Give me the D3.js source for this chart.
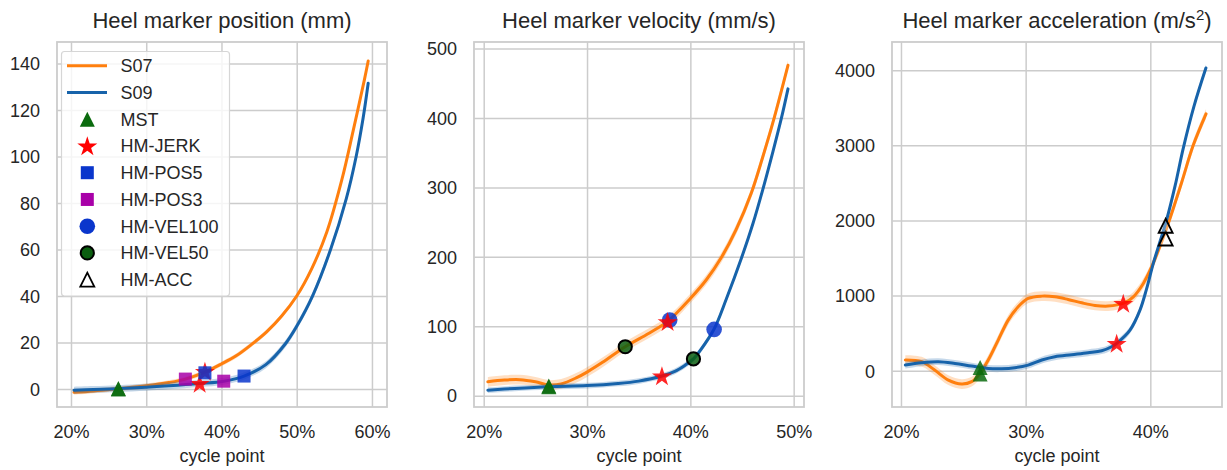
<!DOCTYPE html>
<html><head><meta charset="utf-8">
<script src="https://cdn.jsdelivr.net/npm/d3@7"></script>
<style>
body{margin:0;background:#fff}
text{font-family:"Liberation Sans",Arial,Helvetica,sans-serif;fill:#262626}
</style>
</head><body>
<svg id="c" width="1227" height="470"></svg>
<script>
// ---------------- DATA ----------------
const seriesNames = ["S07", "S09"];
const markerNames = ["MST","HM-JERK","HM-POS5","HM-POS3","HM-VEL100","HM-VEL50","HM-ACC"];
const titles = ["Heel marker position (mm)", "Heel marker velocity (mm/s)", "Heel marker acceleration (m/s"];
const xLabel = "cycle point";

const xTicksPos = [20, 30, 40, 50, 60];
const yTicksPos = [0, 20, 40, 60, 80, 100, 120, 140];
const xTicksVel = [20, 30, 40, 50];
const yTicksVel = [0, 100, 200, 300, 400, 500];
const xTicksAcc = [20, 30, 40];
const yTicksAcc = [0, 1000, 2000, 3000, 4000];

// Position (mm)
const posX_S07 = [20.4, 23, 26.3, 30, 33, 35.2, 37.8, 40, 42, 44, 46, 48, 50, 52, 54, 56, 57.5, 59, 59.5];
const posY_S07 = [-1.4, -0.8, 0.2, 1.4, 2.8, 4.3, 7.3, 10.8, 14.4, 19.2, 24.6, 31.4, 40, 51.8, 67.5, 90, 111, 133, 141];
const posX_S09 = [20.4, 23, 26.3, 30, 33, 37.1, 40.3, 43, 45.9, 48.5, 50, 52.1, 54.5, 56.6, 57.9, 58.8, 59.5];
const posY_S09 = [-0.5, -0.2, 0.2, 0.8, 1.4, 2.4, 3.4, 5.6, 10.5, 19.5, 27, 40, 60, 82, 100, 116, 131.5];
const bandPos = [1.0, 1.5];

// Velocity (mm/s)
const velX_S07 = [20.4, 22, 23.5, 25, 26.3, 27.5, 29, 30, 31.5, 33.7, 36, 37.8, 40, 41.55, 43, 44.45, 45.9, 47.03, 48, 49.45];
const velY_S07 = [20, 22.5, 23, 20, 15.5, 17, 26, 34, 48, 70.5, 90, 107, 140, 167, 199, 240, 292, 345, 394, 476];
const velX_S09 = [20.4, 23, 26.3, 30, 33, 35, 37.25, 38.5, 39.5, 40.3, 41, 42.3, 43.5, 44.94, 46.06, 47.03, 48, 48.8, 49.45];
const velY_S09 = [8, 10.5, 13, 14.5, 17.5, 21, 28.3, 35, 44, 53, 66, 96, 140, 198, 248, 298, 352, 399, 442];
const bandVel = [7, 4];

// Acceleration
const accX_S07 = [20.35, 21.66, 22.7, 23.8, 24.87, 25.67, 26.34, 27.0, 27.8, 28.6, 29.4, 30.2, 31.3, 32.35, 33.4, 34.5, 35.56, 36.6, 37.43, 38.0, 38.64, 39.44, 40.1, 40.78, 41.52, 42.5, 43.44, 44.47];
const accY_S07 = [142, 120, 9, -124, -177, -146, -35, 142, 408, 674, 851, 962, 993, 984, 949, 904, 869, 860, 880, 910, 984, 1162, 1380, 1660, 2000, 2500, 3000, 3420];
const accX_S09 = [20.35, 21.66, 23.0, 24.33, 25.67, 27.0, 28.07, 29.14, 30.2, 31.3, 32.35, 33.7, 35.0, 36.1, 36.9, 37.3, 38.37, 39.17, 39.7, 40.24, 40.78, 41.31, 42.0, 42.64, 43.5, 44.46];
const accY_S09 = [75, 106, 120, 97, 62, 31, 27, 40, 75, 142, 186, 213, 239, 266, 319, 364, 541, 807, 1090, 1430, 1720, 2010, 2470, 2960, 3520, 4030];
const bandAcc = [65, 45];

// Event markers per panel (drawing order)
const posMarkType = ["MST","MST","HM-JERK","HM-JERK","HM-POS5","HM-POS5","HM-POS3","HM-POS3"];
const posMarkX    = [26.3, 26.3, 37.8, 37.1, 37.8, 43.0, 35.2, 40.3];
const posMarkY    = [0.0, 0.2, 7.6, 2.4, 7.0, 5.6, 4.3, 3.4];

const velMarkType = ["HM-VEL100","HM-VEL100","HM-VEL50","HM-VEL50","HM-JERK","HM-JERK","MST","MST"];
const velMarkX    = [38.0, 42.3, 33.7, 40.3, 37.8, 37.25, 26.3, 26.3];
const velMarkY    = [109, 95.5, 70.5, 53, 106.5, 28.3, 14, 13];

const accMarkType = ["MST","MST","HM-JERK","HM-JERK","HM-ACC","HM-ACC"];
const accMarkX    = [26.35, 26.35, 37.83, 37.3, 41.23, 41.23];
const accMarkY    = [-45, 42, 896, 364, 1760, 1930];

// ---------------- STYLE ----------------
const seriesColor = ["#ff7f0e", "#1763aa"];
const gridColor = "#cccccc";
const axTop = 42, axBottom = 407;

const panels = [
  {left:57, right:387, xDom:[18.14, 62.0], yDom:[-7.7, 149.2], xT:xTicksPos, yT:yTicksPos,
   xs:[posX_S07,posX_S09], ys:[posY_S07,posY_S09], band:bandPos,
   mt:posMarkType, mx:posMarkX, my:posMarkY, title:titles[0]},
  {left:474, right:804, xDom:[19.06, 51.0], yDom:[-16.3, 509.5], xT:xTicksVel, yT:yTicksVel,
   xs:[velX_S07,velX_S09], ys:[velY_S07,velY_S09], band:bandVel,
   mt:velMarkType, mx:velMarkX, my:velMarkY, title:titles[1]},
  {left:892, right:1222, xDom:[19.28, 45.75], yDom:[-483, 4376], xT:xTicksAcc, yT:yTicksAcc,
   xs:[accX_S07,accX_S09], ys:[accY_S07,accY_S09], band:bandAcc,
   mt:accMarkType, mx:accMarkX, my:accMarkY, title:titles[2], sup:"2"}
];

function starPath(R){
  const r = R*0.381966; let p = "";
  for(let i=0;i<10;i++){
    const a = (-90 + i*36)*Math.PI/180, rr = i%2===0 ? R : r;
    p += (i===0?"M":"L") + (rr*Math.cos(a)).toFixed(2) + "," + (rr*Math.sin(a)).toFixed(2);
  }
  return p + "Z";
}
function drawMarker(g, type, x, y, o){
  if(type==="MST"){
    g.append("path").attr("d","M0,-7.5L7.5,7.5L-7.5,7.5Z").attr("transform",`translate(${x},${y})`)
     .attr("fill","#0b6b0e").attr("fill-opacity",o);
  } else if(type==="HM-JERK"){
    g.append("path").attr("d",starPath(10.5)).attr("transform",`translate(${x},${y+0.8})`)
     .attr("fill","#ff0000").attr("fill-opacity",o);
  } else if(type==="HM-POS5"){
    g.append("rect").attr("x",x-6.5).attr("y",y-6.5).attr("width",13).attr("height",13)
     .attr("fill","#0a36cc").attr("fill-opacity",o);
  } else if(type==="HM-POS3"){
    g.append("rect").attr("x",x-6.5).attr("y",y-6.5).attr("width",13).attr("height",13)
     .attr("fill","#a800a8").attr("fill-opacity",o);
  } else if(type==="HM-VEL100"){
    g.append("circle").attr("cx",x).attr("cy",y).attr("r",7.8)
     .attr("fill","#0a36cc").attr("fill-opacity",o);
  } else if(type==="HM-VEL50"){
    g.append("circle").attr("cx",x).attr("cy",y).attr("r",6.6)
     .attr("fill","#0b5e10").attr("fill-opacity",o).attr("stroke","#000").attr("stroke-width",2);
  } else if(type==="HM-ACC"){
    g.append("path").attr("d","M0,-7L7,7L-7,7Z").attr("transform",`translate(${x},${y})`)
     .attr("fill","#fff").attr("fill-opacity",0.3).attr("stroke","#000").attr("stroke-width",1.8);
  }
}

const svg = d3.select("#c");

panels.forEach((P, pi) => {
  const x = d3.scaleLinear().domain(P.xDom).range([P.left, P.right]);
  const y = d3.scaleLinear().domain(P.yDom).range([axBottom, axTop]);
  const g = svg.append("g");

  g.append("g").attr("transform",`translate(0,${axBottom})`)
    .call(d3.axisBottom(x).tickValues(P.xT).tickSize(-(axBottom-axTop)).tickFormat(""))
    .call(s=>{s.select(".domain").remove(); s.selectAll("line").attr("stroke",gridColor).attr("stroke-width",1.5);});
  g.append("g").attr("transform",`translate(${P.left},0)`)
    .call(d3.axisLeft(y).tickValues(P.yT).tickSize(-(P.right-P.left)).tickFormat(""))
    .call(s=>{s.select(".domain").remove(); s.selectAll("line").attr("stroke",gridColor).attr("stroke-width",1.5);});

  g.append("g").attr("transform",`translate(0,${axBottom})`)
    .call(d3.axisBottom(x).tickValues(P.xT).tickSize(0).tickPadding(0).tickFormat(d=>d+"%"))
    .call(s=>{s.select(".domain").remove();
      s.selectAll("text").attr("y",31).attr("dy",null).attr("font-size",18).attr("fill","#262626");});
  g.append("g").attr("transform",`translate(${P.left},0)`)
    .call(d3.axisLeft(y).tickValues(P.yT).tickSize(0).tickPadding(0).tickFormat(d3.format("d")))
    .call(s=>{s.select(".domain").remove();
      s.selectAll("text").attr("x",-17).attr("dy","0.35em").attr("font-size",18).attr("fill","#262626");});
  g.selectAll("g").attr("font-family",null).attr("font-size",null);

  g.append("rect").attr("x",P.left).attr("y",axTop).attr("width",P.right-P.left).attr("height",axBottom-axTop)
    .attr("fill","none").attr("stroke",gridColor).attr("stroke-width",1.8);

  const cid = "clip"+pi;
  svg.append("clipPath").attr("id",cid).append("rect")
    .attr("x",P.left).attr("y",axTop).attr("width",P.right-P.left).attr("height",axBottom-axTop);
  const plot = g.append("g").attr("clip-path",`url(#${cid})`);

  const curve = d3.curveCatmullRom.alpha(0.5);
  [0,1].forEach(si => {
    const pts = P.xs[si].map((v,i)=>[v, P.ys[si][i]]);
    const w = P.band[si];
    plot.append("path").datum(pts)
      .attr("d", d3.area().x(d=>x(d[0])).y0(d=>y(d[1]-w)).y1(d=>y(d[1]+w)).curve(curve))
      .attr("fill", seriesColor[si]).attr("fill-opacity",0.25);
    plot.append("path").datum(pts)
      .attr("d", d3.line().x(d=>x(d[0])).y(d=>y(d[1])).curve(curve))
      .attr("fill","none").attr("stroke",seriesColor[si]).attr("stroke-width",3)
      .attr("stroke-linecap","round");
  });

  const mg = g.append("g");
  P.mt.forEach((t,i)=> drawMarker(mg, t, x(P.mx[i]), y(P.my[i]), 0.85));

  const cx = (P.left+P.right)/2;
  const tt = svg.append("text").attr("x",cx).attr("y",28).attr("text-anchor","middle")
    .attr("font-size",22).text(P.title);
  if(P.sup){
    tt.append("tspan").attr("dy",-8).attr("font-size",15).text(P.sup);
    tt.append("tspan").attr("dy",8).text(")");
  }
  svg.append("text").attr("x",cx).attr("y",462).attr("text-anchor","middle")
    .attr("font-size",18).text(xLabel);
});

// ---------------- LEGEND ----------------
const lg = svg.append("g");
lg.append("rect").attr("x",61.5).attr("y",51.5).attr("width",168).attr("height",244.5).attr("rx",3)
  .attr("fill","#fff").attr("fill-opacity",0.8).attr("stroke","#d6d6d6").attr("stroke-width",1.2);
const legItems = seriesNames.concat(markerNames);
legItems.forEach((name,i)=>{
  const yy = 65.7 + i*26.75;
  if(i<2){
    lg.append("line").attr("x1",67).attr("x2",107).attr("y1",yy).attr("y2",yy)
      .attr("stroke",seriesColor[i]).attr("stroke-width",3);
  } else {
    drawMarker(lg, name, 87.3, yy, 1);
  }
  lg.append("text").attr("x",120.5).attr("y",yy).attr("dy","0.36em").attr("font-size",18).text(name);
});
</script>
</body></html>
